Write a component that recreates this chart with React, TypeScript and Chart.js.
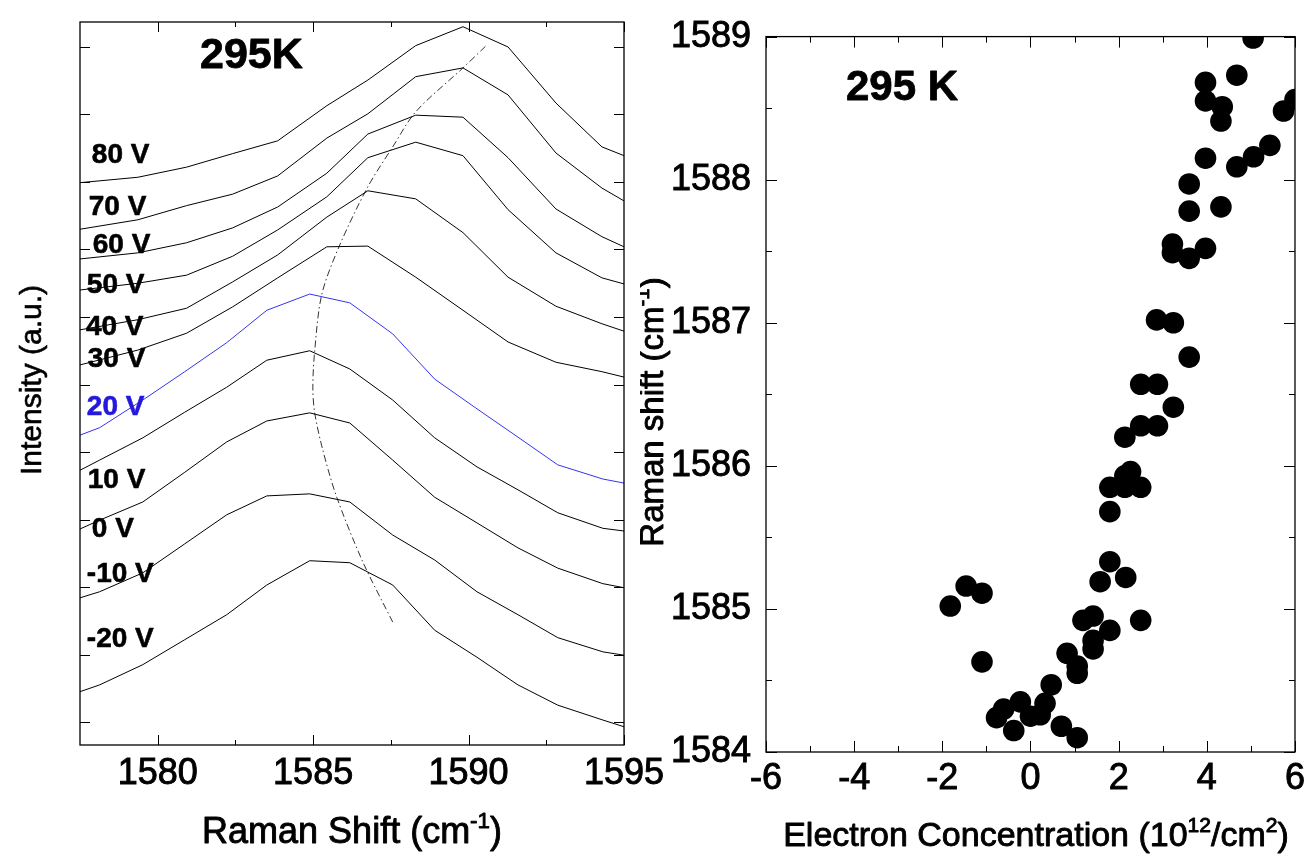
import React, { useEffect, useRef } from "react";
import { Chart, registerables } from "chart.js";

Chart.register(...registerables);

const FONT = '"Liberation Sans", Arial, Helvetica, sans-serif';

// ---------------- Left panel: Raman spectra, 295 K ----------------
// Raman shift sampling (cm-1) of the 30 V ... 80 V spectra
const ramanGridHigh = [1577.5, 1579.36, 1580.93, 1582.41, 1583.86, 1585.44, 1586.76, 1588.3, 1589.82, 1591.27, 1592.81, 1594.29, 1595.0];
// Raman shift sampling (cm-1) of the -20 V ... 20 V spectra
const ramanGridLow = [1577.5, 1578.13, 1579.52, 1580.87, 1582.22, 1583.51, 1584.89, 1586.18, 1587.56, 1588.91, 1590.27, 1591.59, 1592.87, 1594.32, 1595.0];

// intensities (a.u., vertically offset)
const int80V = [7.99, 8.07, 8.22, 8.42, 8.61, 9.13, 9.51, 10.02, 10.3, 10.0, 9.17, 8.52, 8.39];
const int70V = [7.3, 7.44, 7.65, 7.82, 8.09, 8.65, 9.01, 9.56, 9.69, 9.29, 8.43, 7.91, 7.72];
const int60V = [6.86, 6.95, 7.1, 7.32, 7.63, 8.13, 8.71, 8.99, 8.96, 8.36, 7.6, 7.19, 7.04];
const int50V = [6.4, 6.5, 6.62, 6.9, 7.29, 7.78, 8.36, 8.59, 8.39, 7.59, 6.95, 6.58, 6.49];
const int40V = [5.81, 5.96, 6.13, 6.52, 6.92, 7.48, 7.87, 7.75, 7.25, 6.59, 6.16, 5.9, 5.79];
const int30V = [5.29, 5.51, 5.76, 6.15, 6.58, 7.04, 7.05, 6.59, 6.1, 5.63, 5.33, 5.19, 5.11];
const int20V = [4.25, 4.36, 4.77, 5.19, 5.62, 6.1, 6.34, 6.21, 5.75, 5.08, 4.64, 4.22, 3.81, 3.6, 3.54];
const int10V = [3.73, 3.88, 4.21, 4.59, 4.96, 5.36, 5.5, 5.23, 4.77, 4.21, 3.78, 3.44, 3.1, 2.87, 2.83];
const int0V = [2.86, 2.99, 3.26, 3.7, 4.15, 4.46, 4.58, 4.43, 3.88, 3.33, 2.95, 2.58, 2.28, 2.05, 1.99];
const intM10V = [1.84, 1.93, 2.21, 2.64, 3.07, 3.35, 3.38, 3.26, 2.77, 2.4, 1.93, 1.59, 1.25, 1.04, 0.99];
const intM20V = [0.45, 0.55, 0.85, 1.22, 1.59, 2.03, 2.39, 2.36, 2.03, 1.36, 0.96, 0.55, 0.25, 0.03, -0.07];

// dash-dot guide through the G-peak positions
const peakTrackX = [1587.56, 1586.6, 1585.76, 1585.31, 1585.05, 1584.99, 1585.05, 1585.28, 1585.86, 1586.76, 1587.56, 1588.3, 1589.82, 1590.59];
const peakTrackY = [1.48, 2.37, 3.33, 4.03, 4.58, 4.95, 5.5, 6.34, 7.07, 7.93, 8.52, 9.04, 9.69, 10.03];

const gateLabels = ["80 V", "70 V", "60 V", "50 V", "40 V", "30 V", "20 V", "10 V", "0 V", "-10 V", "-20 V"];

const leftXTicks = [1580, 1585, 1590, 1595];
const leftXMinor = [1582.5, 1587.5, 1592.5];
const leftYTicks = [0, 1, 2, 3, 4, 5, 6, 7, 8, 9, 10];

// ---------------- Right panel: G-peak vs electron concentration ----------------
const electronConc = [
  5.05, 4.68, 3.97, 3.97, 4.35, 4.32, 5.74, 6.0, 3.97, 4.68, 5.06, 5.43, 3.6, 3.6, 4.32, 3.22, 3.22, 3.6, 3.97, 2.86,
  3.24, 3.6, 2.5, 2.88, 3.24, 2.14, 2.5, 2.88, 2.27, 2.14, 1.8, 2.14, 2.5, 1.8, 1.8, 1.58, 2.16, -1.46, -1.1, -1.82,
  2.5, 1.19, 1.42, 1.8, 1.42, 1.42, -1.1, 0.83, 1.06, 1.06, 0.47, 0.33, 0.0, -0.23, -0.61, -0.77, -0.38, 0.7, 1.06, 0.22,
];
const ramanShift = [
  1588.99, 1588.73, 1588.68, 1588.55, 1588.51, 1588.41, 1588.48, 1588.56, 1588.15, 1588.09, 1588.16, 1588.24, 1587.97, 1587.78, 1587.81, 1587.55, 1587.49, 1587.45, 1587.52, 1587.02,
  1587.0, 1586.76, 1586.57, 1586.57, 1586.41, 1586.2, 1586.28, 1586.28, 1585.96, 1585.93, 1585.85, 1585.85, 1585.85, 1585.68, 1585.33, 1585.19, 1585.22, 1585.16, 1585.11, 1585.02,
  1584.92, 1584.92, 1584.95, 1584.85, 1584.78, 1584.72, 1584.63, 1584.69, 1584.6, 1584.55, 1584.47, 1584.34, 1584.25, 1584.35, 1584.3, 1584.24, 1584.15, 1584.18, 1584.1, 1584.26,
];

const rightXTicks = [-6, -4, -2, 0, 2, 4, 6];
const rightXMinor = [-5, -3, -1, 1, 3, 5];
const rightYTicks = [1584, 1585, 1586, 1587, 1588, 1589];
const rightYMinor = [1584.5, 1585.5, 1586.5, 1587.5, 1588.5];

// ---------------- helpers ----------------
type Part = [string, boolean];

function drawRich(
  ctx: CanvasRenderingContext2D,
  parts: Part[],
  x: number,
  y: number,
  size: number,
  weight: string,
  align: "left" | "center",
  stroke = 0
) {
  const supSize = size * 0.62;
  const widths = parts.map(([t, sup]) => {
    ctx.font = `${weight} ${sup ? supSize : size}px ${FONT}`;
    return ctx.measureText(t).width;
  });
  const total = widths.reduce((a, b) => a + b, 0);
  let cx = align === "center" ? x - total / 2 : x;
  ctx.textAlign = "left";
  ctx.textBaseline = "alphabetic";
  parts.forEach(([t, sup], i) => {
    ctx.font = `${weight} ${sup ? supSize : size}px ${FONT}`;
    const ty = sup ? y - size * 0.42 : y;
    ctx.fillText(t, cx, ty);
    if (stroke > 0) {
      ctx.lineWidth = stroke;
      ctx.strokeStyle = ctx.fillStyle as string;
      ctx.lineJoin = "round";
      ctx.strokeText(t, cx, ty);
    }
    cx += widths[i];
  });
}

type FrameSpec = {
  xMajor: number[]; xMinor: number[]; yMajor: number[]; yMinor: number[];
  xMajorLen: number; xMinorLen: number; yMajorLen: number; yMinorLen: number;
};

function makeFramePlugin(spec: FrameSpec) {
  return {
    id: "frameTicks",
    afterDatasetsDraw(chart: any) {
      const { ctx, chartArea: a, scales } = chart;
      ctx.save();
      ctx.strokeStyle = "#000";
      ctx.lineWidth = 1;
      ctx.beginPath();
      const vx = (v: number, len: number) => {
        const p = Math.round(scales.x.getPixelForValue(v)) + 0.5;
        ctx.moveTo(p, a.bottom); ctx.lineTo(p, a.bottom - len);
        ctx.moveTo(p, a.top); ctx.lineTo(p, a.top + len);
      };
      const hy = (v: number, len: number) => {
        const p = Math.round(scales.y.getPixelForValue(v)) + 0.5;
        ctx.moveTo(a.left, p); ctx.lineTo(a.left + len, p);
        ctx.moveTo(a.right, p); ctx.lineTo(a.right - len, p);
      };
      spec.xMajor.forEach((v) => vx(v, spec.xMajorLen));
      spec.xMinor.forEach((v) => vx(v, spec.xMinorLen));
      spec.yMajor.forEach((v) => hy(v, spec.yMajorLen));
      spec.yMinor.forEach((v) => hy(v, spec.yMinorLen));
      ctx.stroke();
      ctx.lineWidth = 1.3;
      ctx.strokeRect(a.left, a.top, a.right - a.left, a.bottom - a.top);
      ctx.restore();
    },
  };
}

function makeTextPlugin(draw: (chart: any) => void) {
  return { id: "texts", afterDraw(chart: any) { draw(chart); } };
}

const toPts = (xs: number[], ys: number[]) => xs.map((x, i) => ({ x, y: ys[i] }));

const BLUE_LINE = "#3434f0";
const BLUE_TEXT = "#2418dc";
const TICK_FONT = { family: FONT, size: 36 };

function leftConfig(): any {
  const curves: [number[], number[], string][] = [
    [ramanGridHigh, int80V, "#000"],
    [ramanGridHigh, int70V, "#000"],
    [ramanGridHigh, int60V, "#000"],
    [ramanGridHigh, int50V, "#000"],
    [ramanGridHigh, int40V, "#000"],
    [ramanGridHigh, int30V, "#000"],
    [ramanGridLow, int20V, BLUE_LINE],
    [ramanGridLow, int10V, "#000"],
    [ramanGridLow, int0V, "#000"],
    [ramanGridLow, intM10V, "#000"],
    [ramanGridLow, intM20V, "#000"],
  ];
  const datasets: any[] = curves.map(([xs, ys, c], i) => ({
    label: gateLabels[i],
    data: toPts(xs, ys),
    borderColor: c,
    borderWidth: 1,
    pointRadius: 0,
    tension: 0,
    fill: false,
  }));
  datasets.push({
    label: "peak",
    data: toPts(peakTrackX, peakTrackY),
    borderColor: "#333",
    borderWidth: 1,
    borderDash: [7, 3, 1.5, 3],
    pointRadius: 0,
    tension: 0.3,
    fill: false,
  });

  // label placement (data coordinates of each label's left / vertical centre)
  const labelPos: [number, number][] = [
    [1577.88, 8.43], [1577.78, 7.66], [1577.91, 7.1], [1577.72, 6.5], [1577.69, 5.88], [1577.75, 5.41],
    [1577.72, 4.7], [1577.75, 3.62], [1577.88, 2.89], [1577.72, 2.22], [1577.72, 1.26],
  ];

  const texts = makeTextPlugin((chart) => {
    const { ctx, scales } = chart;
    ctx.save();
    ctx.fillStyle = "#000";
    gateLabels.forEach((t, i) => {
      const px = scales.x.getPixelForValue(labelPos[i][0]);
      const py = scales.y.getPixelForValue(labelPos[i][1]);
      ctx.fillStyle = t === "20 V" ? BLUE_TEXT : "#000";
      drawRich(ctx, [[t, false]], px, py + 10, 28, "bold", "left", 0.6);
    });
    ctx.fillStyle = "#000";
    drawRich(ctx, [["295K", false]], 200, 68, 43, "bold", "left", 0.8);
    drawRich(ctx, [["Raman Shift (cm", false], ["-1", true], [")", false]], 352, 843, 36, "normal", "center", 0.9);
    ctx.translate(41, 380);
    ctx.rotate(-Math.PI / 2);
    drawRich(ctx, [["Intensity (a.u.)", false]], 0, 0, 30, "normal", "center", 0.6);
    ctx.restore();
  });

  return {
    type: "line",
    data: { datasets },
    options: {
      animation: false,
      responsive: false,
      devicePixelRatio: 1,
      layout: { padding: { left: 0, top: 22, right: 76, bottom: 0 } },
      plugins: { legend: { display: false }, tooltip: { enabled: false } },
      scales: {
        x: {
          type: "linear",
          min: 1577.5,
          max: 1595,
          afterBuildTicks: (s: any) => { s.ticks = leftXTicks.map((v) => ({ value: v })); },
          afterFit: (s: any) => { s.height = 856 - 745; },
          ticks: { color: "#000", font: TICK_FONT, textStrokeColor: "#000", textStrokeWidth: 0.9, padding: 7, maxRotation: 0, autoSkip: false, callback: (v: any) => String(v) },
          grid: { display: false, drawTicks: false },
          border: { display: false },
        },
        y: {
          type: "linear",
          min: -0.34,
          max: 10.37,
          afterBuildTicks: (s: any) => { s.ticks = leftYTicks.map((v) => ({ value: v })); },
          afterFit: (s: any) => { s.width = 80; },
          ticks: { display: false },
          grid: { display: false, drawTicks: false },
          border: { display: false },
        },
      },
    },
    plugins: [
      makeFramePlugin({ xMajor: leftXTicks, xMinor: leftXMinor, yMajor: leftYTicks, yMinor: [], xMajorLen: 10, xMinorLen: 5, yMajorLen: 10, yMinorLen: 5 }),
      texts,
    ],
  };
}

function rightConfig(): any {
  const texts = makeTextPlugin((chart) => {
    const { ctx } = chart;
    ctx.save();
    ctx.fillStyle = "#000";
    drawRich(ctx, [["295 K", false]], 846 - 640, 100, 42, "bold", "left", 0.8);
    drawRich(ctx, [["Electron Concentration (10", false], ["12", true], ["/cm", false], ["2", true], [")", false]], 1036 - 640, 846, 34, "normal", "center", 0.9);
    ctx.translate(663 - 640, 412);
    ctx.rotate(-Math.PI / 2);
    drawRich(ctx, [["Raman shift (cm", false], ["-1", true], [")", false]], 0, 0, 33, "normal", "center", 0.9);
    ctx.restore();
  });

  return {
    type: "scatter",
    data: {
      datasets: [
        {
          label: "295 K",
          data: toPts(electronConc, ramanShift),
          pointRadius: 10.8,
          pointHoverRadius: 10.8,
          backgroundColor: "#000",
          borderColor: "#000",
          borderWidth: 0,
          clip: 0,
        },
      ],
    },
    options: {
      animation: false,
      responsive: false,
      devicePixelRatio: 1,
      layout: { padding: { left: 0, top: 21, right: 11, bottom: 0 } },
      plugins: { legend: { display: false }, tooltip: { enabled: false } },
      scales: {
        x: {
          type: "linear",
          min: -6,
          max: 6,
          afterBuildTicks: (s: any) => { s.ticks = rightXTicks.map((v) => ({ value: v })); },
          afterFit: (s: any) => { s.height = 856 - 752; },
          ticks: { color: "#000", font: TICK_FONT, textStrokeColor: "#000", textStrokeWidth: 0.9, padding: 5, maxRotation: 0, autoSkip: false, callback: (v: any) => String(v) },
          grid: { display: false, drawTicks: false },
          border: { display: false },
        },
        y: {
          type: "linear",
          min: 1584,
          max: 1589,
          afterBuildTicks: (s: any) => { s.ticks = rightYTicks.map((v) => ({ value: v })); },
          afterFit: (s: any) => { s.width = 126; },
          ticks: { color: "#000", font: TICK_FONT, textStrokeColor: "#000", textStrokeWidth: 0.9, padding: 15, autoSkip: false, callback: (v: any) => String(v) },
          grid: { display: false, drawTicks: false },
          border: { display: false },
        },
      },
    },
    plugins: [
      makeFramePlugin({ xMajor: rightXTicks, xMinor: rightXMinor, yMajor: rightYTicks, yMinor: rightYMinor, xMajorLen: 11, xMinorLen: 6, yMajorLen: 11, yMinorLen: 6 }),
      texts,
    ],
  };
}

export default function App() {
  const leftRef = useRef<HTMLCanvasElement>(null);
  const rightRef = useRef<HTMLCanvasElement>(null);

  useEffect(() => {
    const left = new Chart(leftRef.current as HTMLCanvasElement, leftConfig());
    const right = new Chart(rightRef.current as HTMLCanvasElement, rightConfig());
    return () => {
      left.destroy();
      right.destroy();
    };
  }, []);

  return (
    <div style={{ position: "fixed", left: 0, top: 0, width: 1310, height: 856, background: "#fff", overflow: "hidden" }}>
      <canvas ref={leftRef} width={700} height={856} style={{ position: "absolute", left: 0, top: 0, width: 700, height: 856 }} />
      <canvas ref={rightRef} width={670} height={856} style={{ position: "absolute", left: 640, top: 0, width: 670, height: 856 }} />
    </div>
  );
}
